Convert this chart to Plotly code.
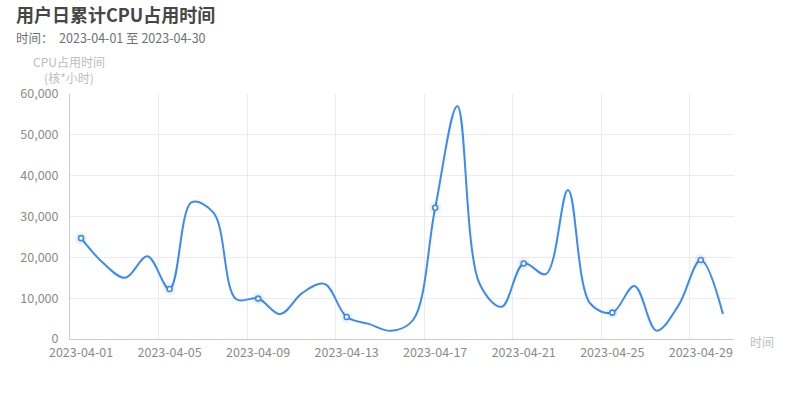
import plotly.graph_objects as go

dates = ["2023-04-%02d" % d for d in range(1, 31)]
cpu_hours = [24700, 18600, 15000, 20250, 12250, 33500, 30800, 9800, 9900, 6100,
             11300, 13500, 5400, 3700, 2000, 4650, 32150, 57000, 13600, 7900,
             18500, 15900, 36500, 8700, 6450, 13000, 2050, 8300, 19350, 6100]
y_ticks = [0, 10000, 20000, 30000, 40000, 50000, 60000]
label_step = 4

idx = list(range(len(dates)))
label_idx = idx[::label_step]
boundary_idx = [i - 0.5 for i in label_idx[1:]]

FONT = "Noto Sans CJK SC"
BLUE = "#3a8bf6"

fig = go.Figure()
fig.add_trace(go.Scatter(
    x=idx, y=cpu_hours, mode="lines",
    line=dict(color=BLUE, width=2, shape="spline", smoothing=1.0),
    hoverinfo="skip", showlegend=False))
# glow
fig.add_trace(go.Scatter(
    x=label_idx, y=[cpu_hours[i] for i in label_idx], mode="markers",
    marker=dict(size=12, color="rgba(0,0,0,0.06)", line=dict(width=0)),
    hoverinfo="skip", showlegend=False))
fig.add_trace(go.Scatter(
    x=label_idx, y=[cpu_hours[i] for i in label_idx], mode="markers",
    marker=dict(size=5, color="#ffffff", line=dict(color=BLUE, width=1.6)),
    showlegend=False))
# invisible trace for grid axis
fig.add_trace(go.Scatter(x=[idx[0]], y=[0], xaxis="x2", mode="markers",
                         marker=dict(opacity=0), hoverinfo="skip", showlegend=False))

W, H = 793, 400
L, R, T, B = 70, 59, 94, 61
pw, ph = W - L - R, H - T - B

def px_x(px):
    return (px - L) / pw

def px_y(py):
    return (H - B - py) / ph

fig.update_layout(
    width=W, height=H,
    margin=dict(l=L, r=R, t=T, b=B),
    paper_bgcolor="white", plot_bgcolor="white",
    font=dict(family=FONT, size=12, color="#6e7079"),
    xaxis=dict(range=[-0.5, len(dates) - 0.5], tickmode="array",
               tickvals=label_idx, ticktext=[dates[i] for i in label_idx],
               showgrid=False, zeroline=False, showline=True, linecolor="#cccccc",
               linewidth=1, ticks="", tickfont=dict(color="#8a8a8a", size=12.5),
               ticklabelstandoff=2),
    xaxis2=dict(range=[-0.5, len(dates) - 0.5], overlaying="x", tickmode="array",
                tickvals=boundary_idx, showticklabels=False, showgrid=True,
                gridcolor="#ececec", gridwidth=1, zeroline=False, showline=False,
                ticks="", layer="below traces"),
    yaxis=dict(range=[0, 60000], tickmode="array", tickvals=y_ticks, tickformat=",d",
               showgrid=True, gridcolor="#ececec", zeroline=False, showline=True,
               linecolor="#cccccc", linewidth=1, ticks="",
               tickfont=dict(color="#8a8a8a", size=12.5), ticklabelstandoff=8),
    annotations=[
        dict(text="<b>用户日累计CPU占用时间</b>", xref="paper", yref="paper",
             x=px_x(14), y=px_y(14), xanchor="left", yanchor="middle",
             showarrow=False, font=dict(size=18, color="#464646", family=FONT)),
        dict(text="时间：  2023-04-01 至 2023-04-30", xref="paper", yref="paper",
             x=px_x(14), y=px_y(38), xanchor="left", yanchor="middle",
             showarrow=False, font=dict(size=12.5, color="#6e7079", family=FONT)),
        dict(text="CPU占用时间<br>(核*小时)", xref="paper", yref="paper",
             x=px_x(69), y=px_y(70), xanchor="center", yanchor="middle",
             showarrow=False, align="center",
             font=dict(size=12, color="#bdbdbd", family=FONT)),
        dict(text="时间", xref="paper", yref="paper",
             x=px_x(748), y=px_y(341), xanchor="left", yanchor="middle",
             showarrow=False, font=dict(size=12, color="#bdbdbd", family=FONT)),
    ],
)

fig.write_html("out.html", post_script="document.body.style.margin='0';",
               config={"displayModeBar": False})
